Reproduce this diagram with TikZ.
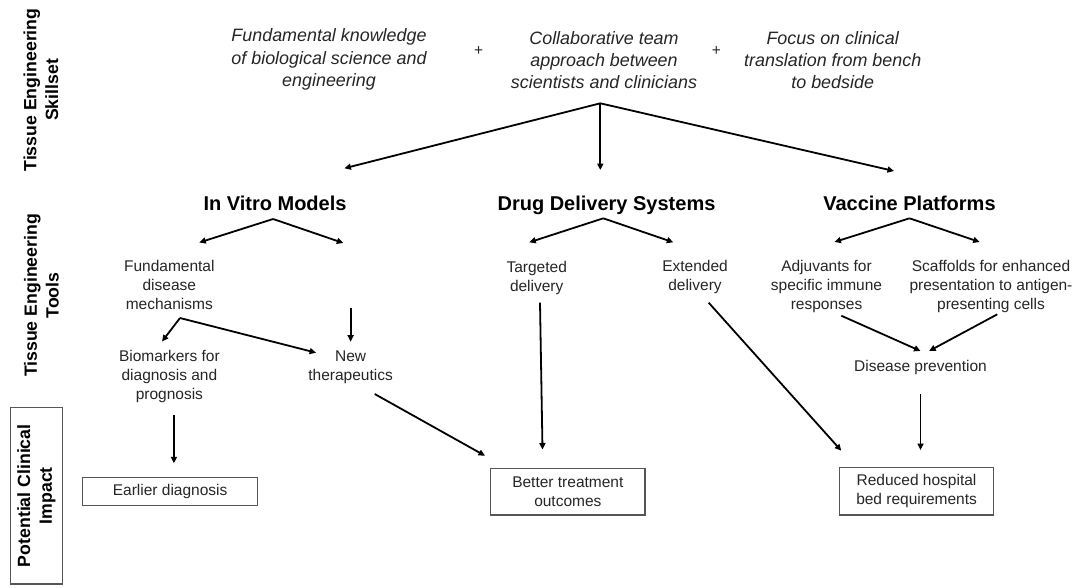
\documentclass[tikz,border=0pt]{standalone}
\usepackage{fontspec}
\setmainfont{Liberation Sans}
\usetikzlibrary{arrows.meta}
\definecolor{txt}{RGB}{38,38,38}
\definecolor{boxc}{RGB}{85,85,85}
\begin{document}
\begin{tikzpicture}[x=1pt,y=-1pt,
  ital/.style={font=\fontsize{17.9}{22.3}\selectfont\itshape, text=txt, align=center, inner sep=0pt},
  plus/.style={font=\fontsize{15.5}{19}\selectfont, text=txt, inner sep=0pt},
  head/.style={font=\fontsize{20}{24}\selectfont\bfseries, text=black, inner sep=0pt, anchor=base},
  small/.style={font=\fontsize{15.5}{19}\selectfont, text=txt, align=center, inner sep=0pt},
  side/.style={font=\fontsize{17.7}{21.7}\selectfont\bfseries, text=black, align=center, rotate=90, inner sep=0pt},
  outbox/.style={draw=boxc, line width=1.3pt, font=\fontsize{15.5}{19}\selectfont, text=txt, align=center, inner sep=0pt},
  arr/.style={line width=1.8pt, -{Triangle[length=6.5pt,width=6pt]}}
]
\useasboundingbox (0,0) rectangle (1078,587);
\fill[white] (0,0) rectangle (1078,587);

% side labels
\node[side] (skill) at (41,90) {Tissue Engineering\\Skillset};
\node[side] (tools) at (41.5,295.5) {Tissue Engineering\\Tools};
\node[side, draw=boxc, line width=1.3pt, minimum width=176.7pt, minimum height=52.4pt] (impact) at (36.5,495.7) {Potential Clinical\\Impact};

% skillset
\node[ital] (t1) at (329,59.5) {Fundamental knowledge\\of biological science and\\engineering};
\node[plus] (p1) at (478.6,51) {+};
\node[ital] (t2) at (604,60) {Collaborative team\\approach between\\scientists and clinicians};
\node[plus] (p2) at (716.5,51) {+};
\node[ital] (t3) at (832.7,60) {Focus on clinical\\translation from bench\\to bedside};

% tools headings
\node[head] (ivm) at (275,210.5) {In Vitro Models};
\node[head] (dds) at (606.5,210.5) {Drug Delivery Systems};
\node[head] (vp) at (909.5,210.5) {Vaccine Platforms};

% sub items
\node[small] (fdm) at (169.3,285.4) {Fundamental\\disease\\mechanisms};
\node[small] (bio) at (169.4,376.7) {Biomarkers for\\diagnosis and\\prognosis};
\node[small] (newt) at (350.6,367) {New\\therapeutics};
\node[small] (targ) at (536.7,278) {Targeted\\delivery};
\node[small] (ext) at (695,277) {Extended\\delivery};
\node[small] (adj) at (826.5,286) {Adjuvants for\\specific immune\\responses};
\node[small] (scaf) at (991,286) {Scaffolds for enhanced\\presentation to antigen-\\presenting cells};
\node[small, anchor=base] (dis) at (920.5,371.6) {Disease prevention};

% impact boxes
\node[outbox, minimum width=175pt, minimum height=27.6pt] (early) at (170.1,491.5) {Earlier diagnosis};
\node[outbox, minimum width=154.3pt, minimum height=46.7pt] (better) at (567.85,491.65) {Better treatment\\outcomes};
\node[outbox, minimum width=153.9pt, minimum height=47.3pt] (reduced) at (916.55,491.35) {Reduced hospital\\bed requirements};

% connector points
\coordinate (t2out) at (600.3,103.3);
\coordinate (ivmin) at (344.4,168.3);
\coordinate (ddsin) at (600.3,170);
\coordinate (vpin) at (894,171);

\coordinate (ivmout) at (273.1,219);
\coordinate (fdmin) at (199.3,242.5);
\coordinate (ivmright) at (343.3,243);
\coordinate (ddsout) at (603.3,218.3);
\coordinate (targin) at (529.3,242.3);
\coordinate (extin) at (673.3,242.3);
\coordinate (vpout) at (909.5,218.3);
\coordinate (adjin) at (834.4,242);
\coordinate (scafin) at (979.7,242);

\coordinate (fdmout) at (180,318);
\coordinate (bioin) at (162,341.5);
\coordinate (newtin) at (316.1,352.7);
\coordinate (newttop) at (350.6,308.3);
\coordinate (newtin2) at (350.6,341.7);

\coordinate (bioout) at (173.9,415);
\coordinate (earlyin) at (173.9,463.3);
\coordinate (newtout) at (374.7,394);
\coordinate (betterin1) at (485,455.7);
\coordinate (targout) at (540,302.7);
\coordinate (betterin2) at (542.5,449.5);
\coordinate (extout) at (708.7,302.7);
\coordinate (reducedin1) at (841.3,450.7);
\coordinate (adjout) at (841.3,315.7);
\coordinate (disin1) at (920.5,351);
\coordinate (scafout) at (997.3,314.3);
\coordinate (disin2) at (929.1,351);
\coordinate (disout) at (920.5,394);
\coordinate (reducedin2) at (920.5,450);

% connectors
\draw[arr] (t2out) -- (ivmin);
\draw[arr] (t2out) -- (ddsin);
\draw[arr] (t2out) -- (vpin);

\draw[arr] (ivmout) -- (fdmin);
\draw[arr] (ivmout) -- (ivmright);
\draw[arr] (ddsout) -- (targin);
\draw[arr] (ddsout) -- (extin);
\draw[arr] (vpout) -- (adjin);
\draw[arr] (vpout) -- (scafin);

\draw[arr] (fdmout) -- (bioin);
\draw[arr] (fdmout) -- (newtin);
\draw[arr] (newttop) -- (newtin2);

\draw[arr] (bioout) -- (earlyin);
\draw[arr] (newtout) -- (betterin1);
\draw[arr] (targout) -- (betterin2);
\draw[arr] (extout) -- (reducedin1);
\draw[arr] (adjout) -- (disin1);
\draw[arr] (scafout) -- (disin2);
\draw[arr] (disout) -- (reducedin2);
\end{tikzpicture}
\end{document}
